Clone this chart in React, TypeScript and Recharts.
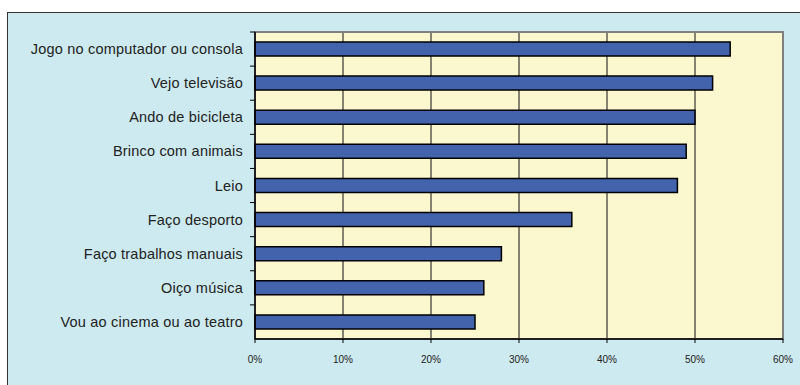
import { BarChart, Bar, XAxis, YAxis, CartesianGrid, ReferenceArea } from 'recharts';

// Atividades (de cima para baixo)
const categories = [
  'Jogo no computador ou consola',
  'Vejo televisão',
  'Ando de bicicleta',
  'Brinco com animais',
  'Leio',
  'Faço desporto',
  'Faço trabalhos manuais',
  'Oiço música',
  'Vou ao cinema ou ao teatro',
];

const shares = [0.54, 0.52, 0.5, 0.49, 0.48, 0.36, 0.28, 0.26, 0.25];

const xTicks = [0, 0.1, 0.2, 0.3, 0.4, 0.5, 0.6];

const chartData = categories.map((name, i) => ({ name, value: shares[i] }));

const W = 800;
const H = 385;
const X_HEIGHT = 30;
const MARGIN = { top: 32, right: 17, bottom: 46 - X_HEIGHT, left: 0 };
const Y_WIDTH = 255;
const BAND = (H - 32 - 46) / categories.length;
const FONT = '"Liberation Sans", Arial, sans-serif';

// label no centro da categoria, tracinho na fronteira (estilo Excel)
const CategoryTick = ({ y, payload, index }: any) => {
  const axisX = Y_WIDTH;
  const by = y + BAND / 2;
  return (
    <g>
      <text
        x={axisX - 12}
        y={y}
        textAnchor="end"
        dominantBaseline="central"
        fontFamily={FONT}
        fontSize={14.5}
        letterSpacing={0.2}
        fill="#222"
      >
        {payload.value}
      </text>
      {index < categories.length - 1 && (
        <line x1={axisX - 5} y1={by} x2={axisX} y2={by} stroke="#000" strokeWidth={1} />
      )}
      {index === 0 && (
        <line x1={axisX - 5} y1={y - BAND / 2} x2={axisX} y2={y - BAND / 2} stroke="#000" strokeWidth={1} />
      )}
    </g>
  );
};

export default function App() {
  return (
    <div style={{ position: 'absolute', left: 0, top: 0, width: W, height: H, overflow: 'hidden', background: '#fff' }}>
      <div
        style={{
          position: 'absolute',
          left: 7,
          top: 12,
          width: W,
          height: H,
          background: '#CDEAF0',
          borderTop: '1.5px solid #333',
          borderLeft: '1.5px solid #333',
        }}
      />
      <div style={{ position: 'absolute', left: 0, top: 0 }}>
        <BarChart width={W} height={H} data={chartData} layout="vertical" margin={MARGIN} barCategoryGap={0}>
          <CartesianGrid horizontal={false} stroke="#111" fill="#FBF7CF" fillOpacity={1} />
          <ReferenceArea x1={0} x2={0.6} fill="none" stroke="#808080" strokeWidth={2} />
          <XAxis
            type="number"
            domain={[0, 0.6]}
            ticks={xTicks}
            height={X_HEIGHT}
            tickFormatter={(v: number) => `${Math.round(v * 100)}%`}
            tick={{ fontFamily: FONT, fontSize: 10, fill: '#222' }}
            tickSize={4}
            tickMargin={13}
            axisLine={{ stroke: '#000', strokeWidth: 1.5 }}
            tickLine={{ stroke: '#000' }}
          />
          <YAxis
            type="category"
            dataKey="name"
            width={Y_WIDTH}
            axisLine={{ stroke: '#000', strokeWidth: 1.5 }}
            tickLine={false}
            interval={0}
            tick={<CategoryTick />}
          />
          <Bar dataKey="value" fill="#4463AD" stroke="#000" strokeWidth={1.5} barSize={14} isAnimationActive={false} />
        </BarChart>
      </div>
    </div>
  );
}
